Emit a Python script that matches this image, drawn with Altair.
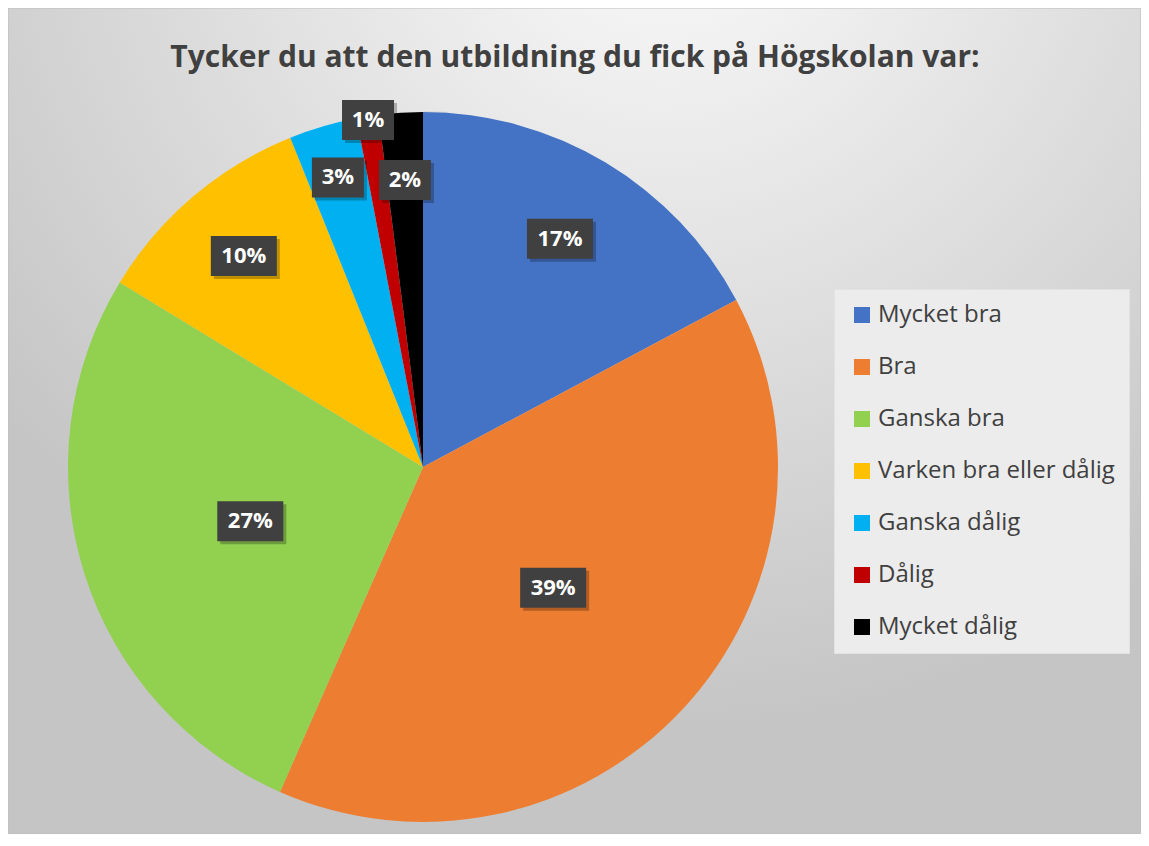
import math
import altair as alt
import pandas as pd

# ---- data ----
categories = ["Mycket bra", "Bra", "Ganska bra", "Varken bra eller dålig",
              "Ganska dålig", "Dålig", "Mycket dålig"]
shares = [17.2, 39.4, 27.1, 10.2, 3.1, 1.0, 2.0]
colors = ["#4472C4", "#ED7D31", "#92D050", "#FFC000", "#00B0F0", "#C00000", "#000000"]
title_text = "Tycker du att den utbildning du fick på Högskolan var:"

# ---- layout ----
label_radius = [0.75, 0.50, 0.51, 0.78, 0.85, 0.99, 0.81]  # fraction of pie radius
W, H = 1133, 826
CX, CY, R = 415, 459, 355
FONT = "Open Sans"

total = sum(shares)
rows = []
cum = 0.0
for i, (c, v) in enumerate(zip(categories, shares)):
    mid = (cum + v / 2) / total * 2 * math.pi
    cum += v
    lr = label_radius[i] * R
    lx = CX + lr * math.sin(mid)
    ly = CY - lr * math.cos(mid)
    label = f"{round(v / total * 100)}%"
    bw = 52 if len(label) == 2 else 66
    rows.append(dict(cat=c, value=v, order=i, label=label, lx=lx, ly=ly,
                     bx0=lx - bw / 2, bx1=lx + bw / 2, by0=ly - 20, by1=ly + 20,
                     sx0=lx - bw / 2 + 3, sx1=lx + bw / 2 + 3, sy0=ly - 17, sy1=ly + 23))
df = pd.DataFrame(rows)

bg = alt.Chart(pd.DataFrame({"a": [0]})).mark_rect(
    fill=alt.Gradient(
        gradient="radial",
        stops=[alt.GradientStop(color="#fcfcfc", offset=0),
               alt.GradientStop(color="#c5c5c5", offset=1)],
        x1=0.58, y1=0.02, r1=0, x2=0.58, y2=0.02, r2=0.75),
    stroke="#bdbdbd", strokeWidth=1,
).encode(x=alt.value(0), x2=alt.value(W), y=alt.value(0), y2=alt.value(H))

shadow = alt.Chart(pd.DataFrame({"a": [1]})).mark_arc(
    radius=R + 4, color="#000000", opacity=0.05
).encode(theta=alt.Theta("a:Q"), x=alt.value(CX + 1), y=alt.value(CY + 3))

pie = alt.Chart(df).mark_arc(radius=R).encode(
    theta=alt.Theta("value:Q", stack=True),
    order=alt.Order("order:Q"),
    color=alt.Color("cat:N", sort=categories,
                    scale=alt.Scale(domain=categories, range=colors),
                    legend=alt.Legend(
                        title=None, orient="none", legendX=826, legendY=281,
                        symbolType="square", symbolSize=256, symbolStrokeWidth=0,
                        labelFont=FONT, labelFontSize=24, labelColor="#404040",
                        labelLimit=400, rowPadding=28, padding=14,
                        symbolOffset=2, labelOffset=4,
                        fillColor="#ececec", strokeColor="#e2e2e2")),
    x=alt.value(CX), y=alt.value(CY),
)

box_shadow = alt.Chart(df).mark_rect(color="#000000", opacity=0.25).encode(
    x=alt.X("sx0:Q", scale=None), x2="sx1:Q",
    y=alt.Y("sy0:Q", scale=None), y2="sy1:Q")

boxes = alt.Chart(df).mark_rect(color="#404040").encode(
    x=alt.X("bx0:Q", scale=None), x2="bx1:Q",
    y=alt.Y("by0:Q", scale=None), y2="by1:Q")

labels = alt.Chart(df).mark_text(
    font=FONT, fontSize=22, fontWeight="bold", color="#ffffff",
    align="center", baseline="middle"
).encode(x=alt.X("lx:Q", scale=None), y=alt.Y("ly:Q", scale=None), text="label:N")

title = alt.Chart(pd.DataFrame({"t": [title_text]})).mark_text(
    font=FONT, fontSize=30, fontWeight="bold", color="#404040",
    align="center", baseline="alphabetic"
).encode(x=alt.value(567), y=alt.value(59), text="t:N")

chart = alt.layer(bg, shadow, pie, box_shadow, boxes, labels, title).properties(
    width=W, height=H, autosize="none", padding=0
).configure_view(stroke=None).resolve_scale(color="independent")

chart.save("out.html", embed_options={"renderer": "svg", "actions": False})
